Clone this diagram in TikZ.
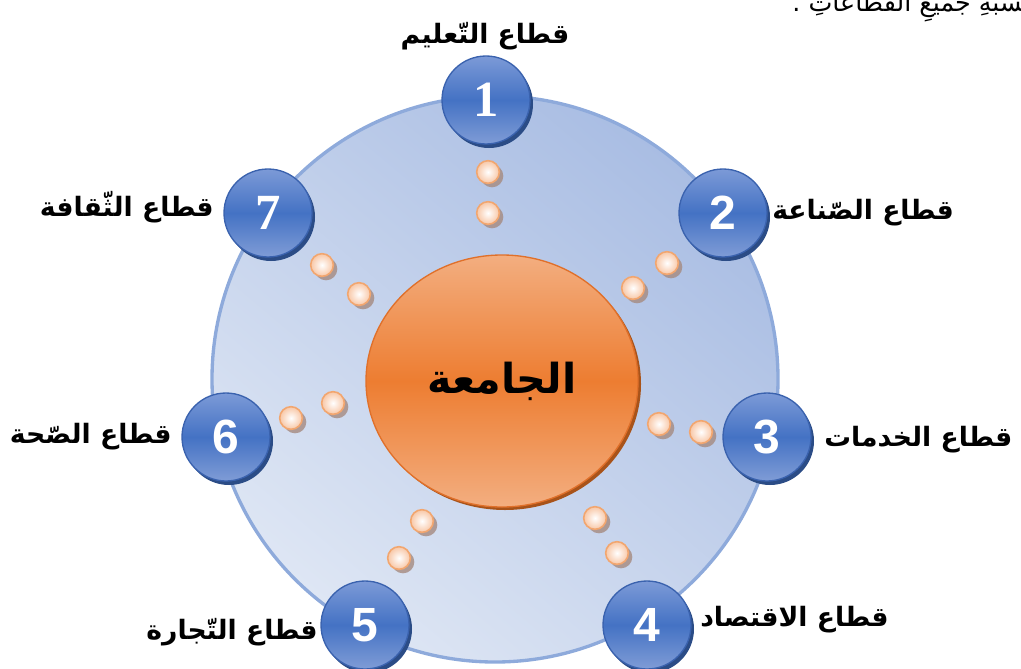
\documentclass[tikz,border=0pt]{standalone}
\usepackage{fontspec}
\newfontfamily\arabicfont[Script=Arabic]{DejaVu Sans}
\newfontfamily\numsans{Liberation Sans}
\newfontfamily\numserif{Liberation Serif}
\TeXXeTstate=1
\usetikzlibrary{shadings,shapes.geometric}
\definecolor{ringline}{HTML}{8EAADB}
\definecolor{ringdark}{HTML}{A9BDE3}
\definecolor{ringlight}{HTML}{DEE6F4}
\definecolor{balltop}{HTML}{7C9AD7}
\definecolor{ballmid}{HTML}{4472C4}
\definecolor{ballbot}{HTML}{7F9CD6}
\definecolor{balledge}{HTML}{3A62AE}
\definecolor{ballshadow}{HTML}{2B4C86}
\definecolor{orgtop}{HTML}{F3AE80}
\definecolor{orgmid}{HTML}{ED7D31}
\definecolor{orgedge}{HTML}{E0702A}
\definecolor{orgshadow}{HTML}{A8531A}
\definecolor{dotfill}{HTML}{F8C7A6}
\definecolor{dotedge}{HTML}{F2A66F}
\definecolor{dotshadow}{HTML}{A58A80}
\tikzset{
  numball/.style={circle, minimum size=66pt, inner sep=0pt,
    top color=balltop, bottom color=ballbot, middle color=ballmid,
    draw=balledge, line width=1pt, text=white, font=\numsans\bfseries\fontsize{36}{36}\selectfont},
  serifnum/.style={font=\numserif\bfseries\fontsize{38}{38}\selectfont},
  ballshade/.style={fill=ballshadow},
  pdot/.style={circle, minimum size=17pt, inner sep=0pt,
    inner color=white, outer color=dotfill, draw=dotedge, line width=1.2pt},
  dotshade/.style={fill=dotshadow, opacity=0.8},
  seclabel/.style={font=\arabicfont\bfseries\fontsize{20}{24}\selectfont, text=black, inner sep=0pt},
}
\begin{document}
\begin{tikzpicture}[x=0.75pt,y=-0.75pt]
\useasboundingbox (0,0) rectangle (1021,668);
% top cropped text line
\node[font=\arabicfont\fontsize{19}{22}\selectfont, anchor=base east, inner sep=0pt] (toptext) at (1030,11) {\beginR نسبةِ جميعِ القطاعاتِ .\endR};
% big ring
\shade[top color=ringdark, bottom color=ringlight, shading angle=-40]
  (495,379) circle[radius=212.25pt];
\draw[ringline, line width=2.5pt] (495,379) circle[radius=212.25pt];
% center ellipse
\fill[orgshadow] (505,384) ellipse[x radius=102pt, y radius=94.5pt];
\node[ellipse, minimum width=204pt, minimum height=189pt, inner sep=0pt,
  top color=orgtop, bottom color=orgtop, middle color=orgmid, draw=orgedge, line width=1pt,
  font=\arabicfont\bfseries\fontsize{31}{34}\selectfont] (uni) at (502,381) {\beginR الجامعة\endR};
% dots
\foreach \nm/\px/\py in {a1/488/172, a2/488/213, b1/667/263, b2/633/288, c1/659/424, c2/701/432,
  d1/595/518, d2/617/553, e1/422/521, e2/399/558, f1/291/418, f2/333/403, g1/322/265, g2/359/294}{
  \fill[dotshade] (\px+4,\py+4) circle[radius=8.5pt];
  \node[pdot] (\nm) at (\px,\py) {};
}
% balls with shadows
\foreach \px/\py in {486/100, 723/213, 767/437, 647/625, 365/625, 226/437, 268/213}{
  \fill[ballshade] (\px+3,\py+4) circle[radius=33pt];
}
\node[numball, serifnum] (n1) at (486,100) {1};
\node[numball] (n2) at (723,213) {2};
\node[numball] (n3) at (767,437) {3};
\node[numball] (n4) at (647,625) {4};
\node[numball] (n5) at (365,625) {5};
\node[numball] (n6) at (226,437) {6};
\node[numball, serifnum] (n7) at (268,213) {7};
% labels
\node[seclabel] (l1) at (485,36) {\beginR قطاع التّعليم\endR};
\node[seclabel, anchor=west] (l2) at (772,213) {\beginR قطاع الصّناعة\endR};
\node[seclabel, anchor=west] (l3) at (824,440) {\beginR قطاع الخدمات\endR};
\node[seclabel, anchor=west] (l4) at (700,620) {\beginR قطاع الاقتصاد\endR};
\node[seclabel, anchor=east] (l5) at (318,632) {\beginR قطاع التّجارة\endR};
\node[seclabel, anchor=east] (l6) at (172,437) {\beginR قطاع الصّحة\endR};
\node[seclabel, anchor=east] (l7) at (214,207) {\beginR قطاع الثّقافة\endR};
\end{tikzpicture}
\end{document}
